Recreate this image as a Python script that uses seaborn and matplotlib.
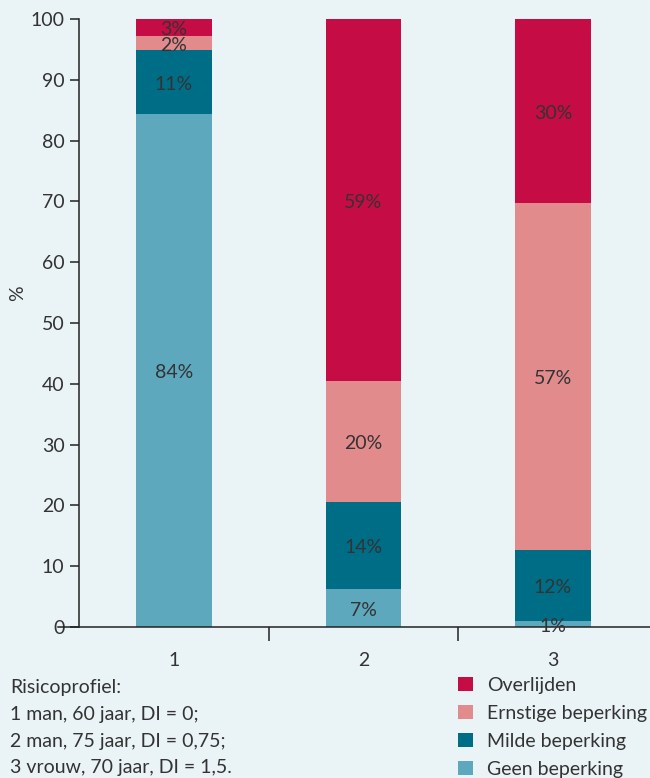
import numpy as np
import pandas as pd
import matplotlib
matplotlib.use("Agg")
import matplotlib.pyplot as plt
import seaborn as sns
from matplotlib.patches import Patch

# ---------------------------
# Data
# ---------------------------
profiles = ["1", "2", "3"]
categories = ["Geen beperking", "Milde beperking", "Ernstige beperking", "Overlijden"]
geen = [84.4, 6.3, 1.0]
milde = [10.5, 14.3, 11.7]
ernstige = [2.3, 19.9, 57.0]
overlijden = [2.8, 59.5, 30.3]
labels_geen = ["84%", "7%", "1%"]
labels_milde = ["11%", "14%", "12%"]
labels_ernstige = ["2%", "20%", "57%"]
labels_overlijden = ["3%", "59%", "30%"]
profile_text = ["Risicoprofiel:",
                "1 man, 60 jaar, DI = 0;",
                "2 man, 75 jaar, DI = 0,75;",
                "3 vrouw, 70 jaar, DI = 1,5."]

colors = {"Geen beperking": "#5ea8bd",
          "Milde beperking": "#006d87",
          "Ernstige beperking": "#e28b8d",
          "Overlijden": "#c60c45"}
bg = "#eaf3f6"
txt = "#333333"
fs = 14

sns.set_theme(style="white")
plt.rcParams['font.family'] = ['Lato', 'DejaVu Sans']

series = [geen, milde, ernstige, overlijden]
seg_labels = [labels_geen, labels_milde, labels_ernstige, labels_overlijden]
cum = np.cumsum(np.array(series), axis=0)  # rows: top of each segment
df = pd.DataFrame({"profiel": np.tile(profiles, 4),
                   "categorie": np.repeat(categories, 3),
                   "top": cum.flatten()})

fig = plt.figure(figsize=(6.5, 7.78), dpi=100, facecolor=bg)
ax = fig.add_axes([58 / 650, 151 / 778, 592 / 650, 608 / 778])
ax.set_facecolor(bg)

# draw from the tallest cumulative layer down so each shorter one overlays
for cat in reversed(categories):
    sub = df[df["categorie"] == cat]
    sns.barplot(data=sub, x="profiel", y="top", color=colors[cat],
                width=0.4, saturation=1, ax=ax, order=profiles,
                edgecolor="none", linewidth=0)

for i, cat in enumerate(categories):
    bottoms = cum[i] - np.array(series[i])
    for j in range(len(profiles)):
        ax.text(j, bottoms[j] + series[i][j] / 2 - 0.4, seg_labels[i][j],
                ha="center", va="center", fontsize=fs, color=txt)

ax.set_xlim(-0.612, 2.512)
ax.set_ylim(0, 100)
ax.set_yticks(range(0, 101, 10))
ax.set_xlabel("")
ax.set_ylabel("")
fig.text(18 / 650, 1 - 293 / 778, "%", rotation=90, fontsize=fs, color=txt,
         ha="center", va="center")

for s in ["top", "right"]:
    ax.spines[s].set_visible(False)
ax.spines["left"].set_position(("axes", 21 / 592))
ax.spines["left"].set_color("#222222")
ax.spines["bottom"].set_color("#222222")
ax.spines["left"].set_linewidth(1.1)
ax.spines["bottom"].set_linewidth(1.1)

ax.tick_params(axis="y", direction="out", length=6.5, width=1.1, color="#222222",
               labelsize=fs, labelcolor=txt, left=True, pad=4)
ax.tick_params(axis="x", which="major", length=0, labelsize=fs, labelcolor=txt, pad=18)
ax.set_xticks([0.5, 1.5], minor=True)
ax.tick_params(axis="x", which="minor", direction="out", length=10, width=1.1,
               color="#222222", bottom=True)

for k, line in enumerate(profile_text):
    fig.text(10 / 650, 1 - (688 + 26.5 * k) / 778, line, fontsize=fs,
             color=txt, va="center", ha="left")

handles = [Patch(facecolor=colors[c], edgecolor="none") for c in reversed(categories)]
leg = fig.legend(handles, list(reversed(categories)), loc="upper left",
                 bbox_to_anchor=(458 / 650, 1 - 677 / 778), frameon=False,
                 fontsize=fs, handlelength=0.75, handleheight=0.75,
                 handletextpad=0.75, labelspacing=0.56, borderpad=0, borderaxespad=0)
for t in leg.get_texts():
    t.set_color(txt)

fig.savefig("out.png", dpi=100, facecolor=bg)
